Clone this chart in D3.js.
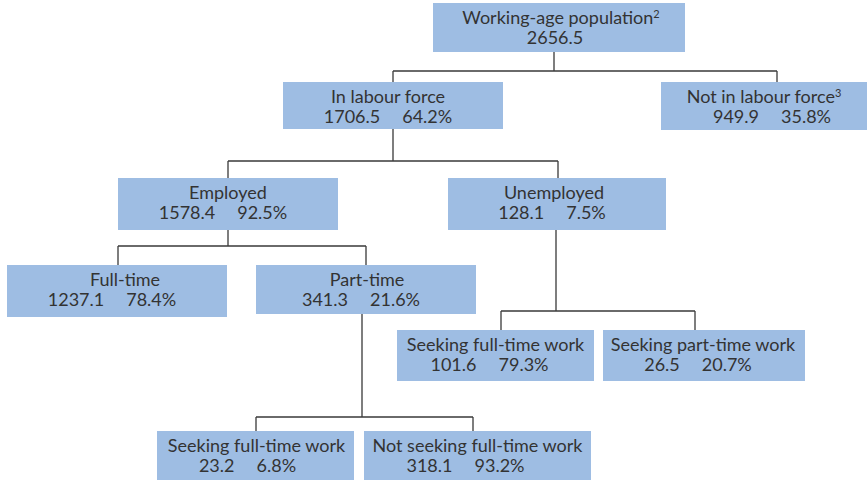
<!DOCTYPE html>
<html>
<head>
<meta charset="utf-8">
<script src="https://cdn.jsdelivr.net/npm/d3@7"></script>
<style>
  html, body { margin: 0; padding: 0; background: #fff; }
  svg text { font-family: Lato, "Open Sans", sans-serif; fill: #333; }
</style>
</head>
<body>
<svg id="chart" width="868" height="480"></svg>
<script>
// labour force breakdown, thousands
const ids     = ['wap', 'lf', 'nilf', 'emp', 'unemp', 'ft', 'pt', 'uft', 'upt', 'pft', 'pnft'];
const parents = ['', 'wap', 'wap', 'lf', 'lf', 'emp', 'emp', 'unemp', 'unemp', 'pt', 'pt'];
const labels  = ['Working-age population', 'In labour force', 'Not in labour force',
                 'Employed', 'Unemployed', 'Full-time', 'Part-time',
                 'Seeking full-time work', 'Seeking part-time work',
                 'Seeking full-time work', 'Not seeking full-time work'];
const notes   = ['2', '', '3', '', '', '', '', '', '', '', ''];
const values  = [2656.5, 1706.5, 949.9, 1578.4, 128.1, 1237.1, 341.3, 101.6, 26.5, 23.2, 318.1];
const shares  = [null, 64.2, 35.8, 92.5, 7.5, 78.4, 21.6, 79.3, 20.7, 6.8, 93.2];

// box placement: [x0, y0, x1, y1, line x in (top), line x out (bottom), dx line 1, dx line 2]
const layout = {
    wap:   [433, 3, 685, 52, 559, 554, 2, -4],
    lf:    [283, 82, 503, 129, 393, 393, -5, -5],
    nilf:  [661, 82, 867, 130, 777, 777, 0, 8],
    emp:   [118, 178, 338, 230, 228, 228, 0, -5],
    unemp: [448, 178, 666, 230, 558, 556, -3, -5],
    ft:    [7, 265, 227, 317, 118, 118, 8, -5],
    pt:    [256, 265, 476, 314, 366, 362, 1, -5],
    uft:   [397, 330, 594, 381, 501, 501, 0, -6],
    upt:   [603, 330, 805, 381, 695, 695, -1, -6],
    pft:   [157, 431, 354, 480, 256, 256, 1, -8],
    pnft:  [364, 431, 591, 480, 473, 473, 0, -12]
};
// y of the horizontal branch under each parent
const branchY = { wap: 71, lf: 161, emp: 246, unemp: 311, pt: 417 };

let rows = ids.map(function (id, i) {
    return { id: id, parent: parents[i], label: labels[i], note: notes[i], value: values[i], share: shares[i] };
});

let root = d3.stratify()
    .id(function (d) { return d.id; })
    .parentId(function (d) { return d.parent || null; })(rows);

let svg = d3.select('#chart');
let links = svg.append('g').attr('class', 'links');
let boxes = svg.append('g').attr('class', 'boxes');

// elbow connectors
root.descendants().forEach(function (node) {
    if (!node.children) {
        return;
    }
    let p = layout[node.id];
    let by = branchY[node.id];
    let xs = node.children.map(function (c) { return layout[c.id][4]; });
    let path = d3.path();
    path.moveTo(p[5], p[3]);
    path.lineTo(p[5], by);
    path.moveTo(d3.min(xs), by);
    path.lineTo(d3.max(xs), by);
    node.children.forEach(function (c) {
        let q = layout[c.id];
        path.moveTo(q[4], by);
        path.lineTo(q[4], q[1]);
    });
    links.append('path')
        .attr('d', path.toString())
        .attr('fill', 'none')
        .attr('stroke', '#3a3a3a')
        .attr('stroke-width', 1.3);
});

let fmt = d3.format('.1f');

let node = boxes.selectAll('g.node')
    .data(root.descendants())
    .enter().append('g')
    .attr('class', 'node')
    .attr('transform', function (d) {
        let b = layout[d.id];
        return 'translate(' + b[0] + ',' + b[1] + ')';
    });

node.append('rect')
    .attr('width', function (d) { return layout[d.id][2] - layout[d.id][0]; })
    .attr('height', function (d) { return layout[d.id][3] - layout[d.id][1]; })
    .attr('fill', '#9ebde3');

let first = node.append('text')
    .attr('x', function (d) { return (layout[d.id][2] - layout[d.id][0]) / 2 + layout[d.id][6]; })
    .attr('y', 21)
    .attr('text-anchor', 'middle')
    .attr('font-size', 18);

first.append('tspan')
    .text(function (d) { return d.data.label; });

first.filter(function (d) { return d.data.note !== ''; })
    .append('tspan')
    .attr('font-size', 11)
    .attr('dy', -6)
    .text(function (d) { return d.data.note; });

let second = node.append('text')
    .attr('x', function (d) { return (layout[d.id][2] - layout[d.id][0]) / 2 + layout[d.id][7]; })
    .attr('y', 41)
    .attr('text-anchor', 'middle')
    .attr('font-size', 18);

second.append('tspan')
    .text(function (d) { return fmt(d.data.value); });

second.filter(function (d) { return d.data.share !== null; })
    .append('tspan')
    .attr('dx', 22)
    .text(function (d) { return fmt(d.data.share) + '%'; });
</script>
</body>
</html>
